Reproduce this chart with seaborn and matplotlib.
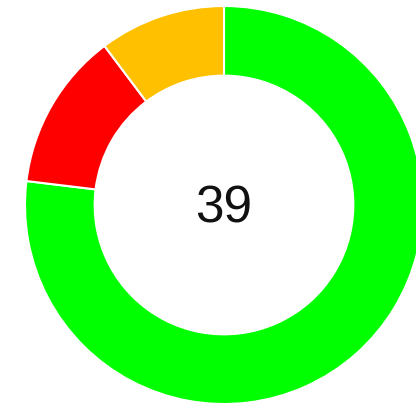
import matplotlib
matplotlib.use("Agg")
import matplotlib.pyplot as plt
import seaborn as sns

# segment data, clockwise from 12 o'clock
labels = ["Green", "Red", "Yellow"]
counts = [30, 5, 4]
colors = ["#00FF00", "#FF0000", "#FFC000"]

sns.set_theme(style="white")
plt.rcParams['font.family'] = ['Liberation Sans', 'DejaVu Sans']

fig = plt.figure(figsize=(4.16, 4.03), dpi=100)
ax = fig.add_axes([0, 0, 1, 1])

palette = sns.color_palette(colors)
ax.pie(
    counts,
    colors=palette,
    startangle=90,
    counterclock=False,
    radius=1.0,
    wedgeprops=dict(width=0.35, edgecolor="white", linewidth=1.5),
)

# center text = total
ax.text(0, -0.09, str(sum(counts)), ha="center", va="baseline", fontsize=37, color="#111111")

# donut center sits at (224, 205) px, radius ~199 px
ax.set_xlim(-224 / 199, (416 - 224) / 199)
ax.set_ylim(-(403 - 205) / 199, 205 / 199)
ax.set_aspect("equal")
ax.axis("off")

fig.savefig("out.png", dpi=100)
